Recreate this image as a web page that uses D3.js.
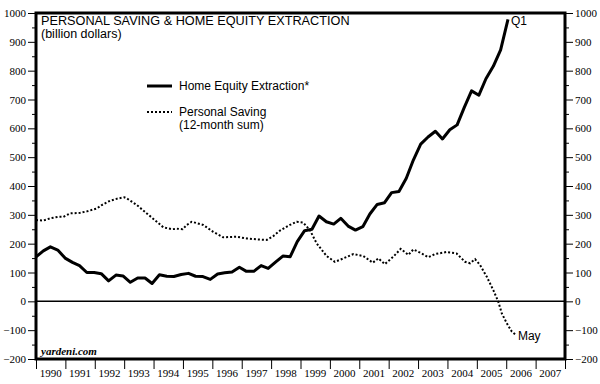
<!DOCTYPE html>
<html>
<head>
<meta charset="utf-8">
<script src="https://cdn.jsdelivr.net/npm/d3@7"></script>
<style>
  body { margin: 0; background: #fff; }
  svg { display: block; }
</style>
</head>
<body>
<div id="chart"></div>
<script>
// home equity extraction, quarterly, 1990 Q1 .. 2006 Q1 (billion $)
// dates as plotted on the original chart (decimal year)
var equityDates = [
  1990.00, 1990.25, 1990.49, 1990.74, 1990.99, 1991.24, 1991.48, 1991.73,
  1991.98, 1992.22, 1992.47, 1992.72, 1992.96, 1993.21, 1993.46, 1993.71,
  1993.95, 1994.20, 1994.45, 1994.69, 1994.94, 1995.19, 1995.43, 1995.68,
  1995.93, 1996.18, 1996.42, 1996.67, 1996.92, 1997.16, 1997.41, 1997.66,
  1997.90, 1998.15, 1998.40, 1998.65, 1998.89, 1999.14, 1999.39, 1999.63,
  1999.88, 2000.13, 2000.37, 2000.62, 2000.87, 2001.12, 2001.36, 2001.61,
  2001.86, 2002.10, 2002.35, 2002.60, 2002.84, 2003.09, 2003.34, 2003.59,
  2003.83, 2004.08, 2004.33, 2004.57, 2004.82, 2005.07, 2005.31, 2005.56,
  2005.81, 2006.06
];
var equityValues = [
  154, 175, 189, 178, 150, 135, 124, 100,
  100, 96, 71, 91, 88, 66, 81, 81,
  62, 92, 87, 86, 93, 97, 87, 86,
  76, 95, 99, 102, 118, 104, 104, 124,
  114, 136, 157, 155, 207, 245, 250, 296,
  276, 268, 288, 261, 247, 259, 303, 336,
  342, 377, 381, 427, 490, 545, 570, 590,
  563, 595, 612, 672, 730, 715, 772, 815,
  872, 978
];

// personal saving, 12-month sum (decimal year, billion $)
var savingDates = [
  1990.00, 1990.25, 1990.48, 1990.76, 1990.93, 1991.16, 1991.50, 1991.73,
  1992.07, 1992.24, 1992.52, 1992.80, 1993.00, 1993.09, 1993.43, 1993.77,
  1994.11, 1994.33, 1994.62, 1994.79, 1994.99, 1995.13, 1995.30, 1995.69,
  1996.03, 1996.37, 1996.83, 1997.17, 1997.51, 1997.85, 1998.07, 1998.30,
  1998.64, 1998.87, 1999.09, 1999.32, 1999.55, 1999.89, 2000.17, 2000.46,
  2000.80, 2001.14, 2001.46, 2001.65, 2001.87, 2002.16, 2002.41, 2002.67,
  2002.84, 2003.07, 2003.35, 2003.58, 2003.97, 2004.31, 2004.60, 2004.77,
  2004.94, 2005.11, 2005.34, 2005.56, 2005.73, 2005.85, 2006.02, 2006.19,
  2006.33
];
var savingValues = [
  282, 280, 288, 293, 293, 305, 307, 312,
  322, 334, 349, 357, 361, 357, 334, 305,
  276, 257, 250, 252, 250, 265, 276, 265,
  241, 222, 224, 218, 215, 213, 226, 245,
  265, 276, 273, 247, 201, 157, 137, 149,
  164, 157, 134, 149, 129, 155, 182, 161,
  180, 169, 153, 164, 171, 166, 137, 132,
  146, 126, 85, 39, -1, -42, -76, -105,
  -117
];

var years = d3.range(1990, 2008);
var yMajor = d3.range(-200, 1001, 100);
var yMinor = d3.range(-150, 1000, 100);

var width = 600, height = 384;
var plotLeft = 36, plotRight = 565, plotTop = 13, plotBottom = 359;

var svg = d3.select("#chart").append("svg")
    .attr("width", width)
    .attr("height", height);

var x = d3.scaleLinear().domain([1990, 2008]).range([plotLeft, plotRight]);
var y = d3.scaleLinear().domain([-200, 1000]).range([plotBottom, plotTop]);

var serif = "'Liberation Serif', 'Times New Roman', serif";
var sans = "'Liberation Sans', Arial, sans-serif";

function styleAxis(g) {
  g.select(".domain").remove();
  g.selectAll("line").attr("stroke", "#000");
  g.selectAll("text").attr("font-family", serif).attr("font-size", 11).attr("fill", "#000");
}

// left axis
svg.append("g").attr("transform", "translate(" + plotLeft + ",0)")
    .call(d3.axisLeft(y).tickValues(yMajor).tickSize(8).tickPadding(2).tickFormat(d3.format("d")))
    .call(styleAxis);
svg.append("g").attr("transform", "translate(" + plotLeft + ",0)")
    .call(d3.axisLeft(y).tickValues(yMinor).tickSize(4).tickFormat(""))
    .call(styleAxis);

// right axis
svg.append("g").attr("transform", "translate(" + plotRight + ",0)")
    .call(d3.axisRight(y).tickValues(yMajor).tickSize(8).tickPadding(2).tickFormat(d3.format("d")))
    .call(styleAxis);
svg.append("g").attr("transform", "translate(" + plotRight + ",0)")
    .call(d3.axisRight(y).tickValues(yMinor).tickSize(4).tickFormat(""))
    .call(styleAxis);

// bottom axis: ticks at year boundaries, labels centred in each year
svg.append("g").attr("transform", "translate(0," + plotBottom + ")")
    .call(d3.axisBottom(x).tickValues(d3.range(1990, 2009)).tickSize(10).tickFormat(""))
    .call(styleAxis);
svg.append("g").selectAll("text")
    .data(years)
  .enter().append("text")
    .attr("x", function(d) { return x(d + 0.5); })
    .attr("y", 377)
    .attr("text-anchor", "middle")
    .attr("font-family", serif)
    .attr("font-size", 11)
    .text(function(d) { return d; });

// zero line
svg.append("line")
    .attr("x1", plotLeft).attr("x2", plotRight)
    .attr("y1", y(0)).attr("y2", y(0))
    .attr("stroke", "#000").attr("stroke-width", 1.5);

// series
var equity = equityValues.map(function(v, i) { return { t: equityDates[i], v: v }; });
var saving = savingValues.map(function(v, i) { return { t: savingDates[i], v: v }; });

var line = d3.line()
    .x(function(d) { return x(d.t); })
    .y(function(d) { return y(d.v); });

svg.append("path")
    .datum(saving)
    .attr("d", line)
    .attr("fill", "none")
    .attr("stroke", "#000")
    .attr("stroke-width", 2)
    .attr("stroke-dasharray", "2,2");

svg.append("path")
    .datum(equity)
    .attr("d", line)
    .attr("fill", "none")
    .attr("stroke", "#000")
    .attr("stroke-width", 3)
    .attr("stroke-linejoin", "round");

// frame
svg.append("rect")
    .attr("x", plotLeft).attr("y", plotTop)
    .attr("width", plotRight - plotLeft).attr("height", plotBottom - plotTop)
    .attr("fill", "none")
    .attr("stroke", "#000")
    .attr("stroke-width", 3);

// titles
svg.append("text")
    .attr("x", 41).attr("y", 25)
    .attr("font-family", sans).attr("font-size", 12.7)
    .text("PERSONAL SAVING & HOME EQUITY EXTRACTION");
svg.append("text")
    .attr("x", 41).attr("y", 38)
    .attr("font-family", sans).attr("font-size", 12.5)
    .text("(billion dollars)");

// legend
svg.append("line")
    .attr("x1", 147).attr("x2", 172).attr("y1", 86).attr("y2", 86)
    .attr("stroke", "#000").attr("stroke-width", 3);
svg.append("text")
    .attr("x", 179).attr("y", 90)
    .attr("font-family", sans).attr("font-size", 12)
    .text("Home Equity Extraction*");
svg.append("line")
    .attr("x1", 147).attr("x2", 172).attr("y1", 112).attr("y2", 112)
    .attr("stroke", "#000").attr("stroke-width", 2).attr("stroke-dasharray", "2,2");
svg.append("text")
    .attr("x", 179).attr("y", 116)
    .attr("font-family", sans).attr("font-size", 12)
    .text("Personal Saving");
svg.append("text")
    .attr("x", 179).attr("y", 129)
    .attr("font-family", sans).attr("font-size", 12)
    .text("(12-month sum)");

// end labels
var lastE = equity[equity.length - 1], lastS = saving[saving.length - 1];
svg.append("text")
    .attr("x", x(lastE.t) + 3).attr("y", y(lastE.v) + 6)
    .attr("font-family", sans).attr("font-size", 12)
    .text("Q1");
svg.append("text")
    .attr("x", x(lastS.t) + 2).attr("y", y(lastS.v) + 5)
    .attr("font-family", sans).attr("font-size", 12)
    .text("May");

// source
svg.append("text")
    .attr("x", 41).attr("y", 355)
    .attr("font-family", serif).attr("font-size", 11)
    .attr("font-style", "italic").attr("font-weight", "bold")
    .text("yardeni.com");
</script>
</body>
</html>
